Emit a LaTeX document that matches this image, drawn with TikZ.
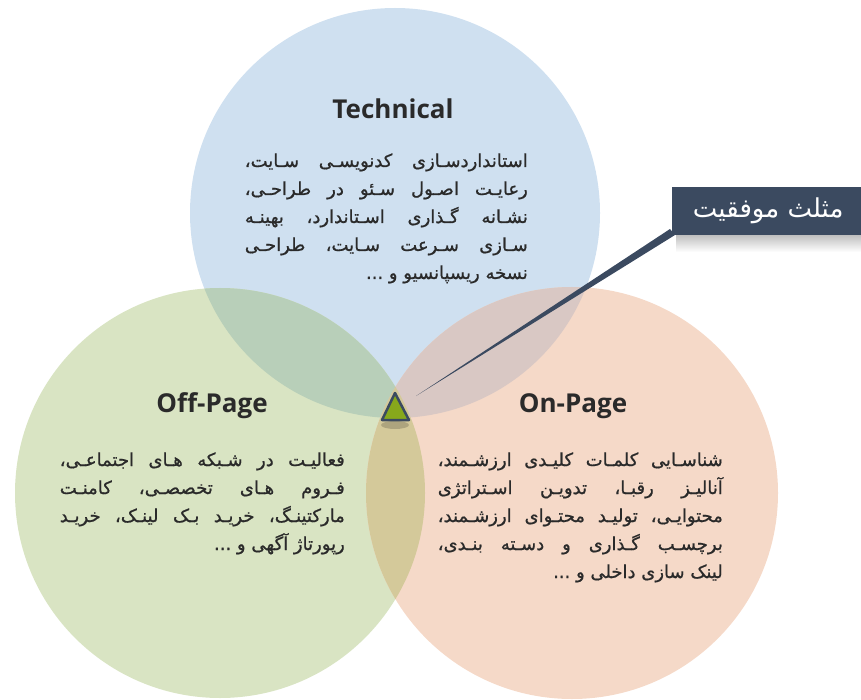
\documentclass[tikz,border=0pt]{standalone}
\usepackage{fontspec}
\setmainfont{Open Sans}
\newfontfamily\arabicfont[Script=Arabic,FakeBold=0.8]{DejaVu Sans}
\newfontfamily\arabicplain[Script=Arabic]{DejaVu Sans}
\TeXXeTstate=1
\usetikzlibrary{calc}
\definecolor{cblue}{HTML}{CFE0F0}
\definecolor{cgreen}{HTML}{D9E4C3}
\definecolor{corange}{HTML}{F5D9C8}
\definecolor{cbg}{HTML}{B8CFB9}
\definecolor{cbo}{HTML}{D9C8C4}
\definecolor{cgo}{HTML}{D4C99A}
\definecolor{cslate}{HTML}{3B4A60}
\definecolor{ctri}{HTML}{87A81B}
\definecolor{ctext}{HTML}{2A2A2A}
\newcommand{\jline}[2]{\makebox[#1][s]{#2}}
\begin{document}
\begin{tikzpicture}[x=1pt,y=-1pt,
  title/.style={font=\fontsize{26}{30}\selectfont\bfseries, text=ctext, inner sep=0pt},
  body/.style={font=\arabicfont\fontsize{18}{28}\selectfont, text=ctext, inner sep=0pt, anchor=base east},
  calloutbox/.style={fill=cslate, minimum width=192pt, minimum height=48pt, anchor=north west, inner sep=0pt, text=white, font=\arabicplain\fontsize{26}{28}\selectfont},
]
\useasboundingbox (0,0) rectangle (861,700);
\coordinate (ct) at (395,213);
\coordinate (cl) at (220,493);
\coordinate (cr) at (572,493);
\fill[cblue] (ct) circle[radius=205pt];
\fill[cgreen] (cl) circle[radius=205pt];
\fill[corange] (cr) circle[radius=206pt];
\begin{scope}\clip (ct) circle[radius=205pt]; \fill[cbg] (cl) circle[radius=205pt]; \end{scope}
\begin{scope}\clip (ct) circle[radius=205pt]; \fill[cbo] (cr) circle[radius=206pt]; \end{scope}
\begin{scope}\clip (cl) circle[radius=205pt]; \fill[cgo] (cr) circle[radius=206pt]; \end{scope}

% titles
\node[title] (tech) at (393,109) {Technical};
\node[title] (off) at (212,406) {Off-Page};
\node[title] (on) at (573,406) {On-Page};

% technical body
\node[body] (t1) at (528,167) {\jline{283pt}{\beginR استانداردسـازی کدنویسـی سـایت،\endR}};
\node[body] (t2) at (528,195) {\jline{283pt}{\beginR رعایـت اصـول سـئو در طراحـی،\endR}};
\node[body] (t3) at (528,223) {\jline{283pt}{\beginR نشـانه گـذاری اسـتاندارد، بهینـه\endR}};
\node[body] (t4) at (528,251) {\jline{283pt}{\beginR سـازی سـرعت سـایت، طراحـی\endR}};
\node[body] (t5) at (528,279) {\beginR نسخه ریسپانسیو و ...\endR};

% off-page body
\node[body] (o1) at (345,466) {\jline{285pt}{\beginR فعالیـت در شـبکه هـای اجتماعـی،\endR}};
\node[body] (o2) at (345,494) {\jline{285pt}{\beginR فـروم هـای تخصصـی، کامنـت\endR}};
\node[body] (o3) at (345,522) {\jline{285pt}{\beginR مارکتینـگ، خریـد بـک لینـک، خریـد\endR}};
\node[body] (o4) at (345,550) {\beginR رپورتاژ آگهی و ...\endR};

% on-page body
\node[body] (n1) at (723,466) {\jline{285pt}{\beginR شناسـایی کلمـات کلیـدی ارزشـمند،\endR}};
\node[body] (n2) at (723,494) {\jline{285pt}{\beginR آنالیـز رقبـا، تدویـن اسـتراتژی\endR}};
\node[body] (n3) at (723,522) {\jline{285pt}{\beginR محتوایـی، تولیـد محتـوای ارزشـمند،\endR}};
\node[body] (n4) at (723,550) {\jline{285pt}{\beginR برچسـب گـذاری و دسـته بنـدی،\endR}};
\node[body] (n5) at (723,578) {\beginR لینک سازی داخلی و ...\endR};

% triangle
\coordinate (tA) at (395,393);
\coordinate (tB) at (382,420);
\coordinate (tC) at (409,420);
\fill[black,opacity=0.18] (395,425) ellipse[x radius=14pt, y radius=4pt];
\draw[cslate, line width=2.5pt, line join=round, fill=ctri] (tA) -- (tB) -- (tC) -- cycle;

% callout
\coordinate (tip) at (416,396);
\coordinate (boxcorner) at (672,235);
\shade[top color=black!25, bottom color=white] (676,235) rectangle (861,252);
\fill[cslate] (tip) -- ($(boxcorner)+(-2,-6)$) -- ($(boxcorner)+(3,0)$) -- cycle;
\node[calloutbox] (succ) at (672,187) {\beginR مثلث موفقیت\endR};
\end{tikzpicture}
\end{document}
